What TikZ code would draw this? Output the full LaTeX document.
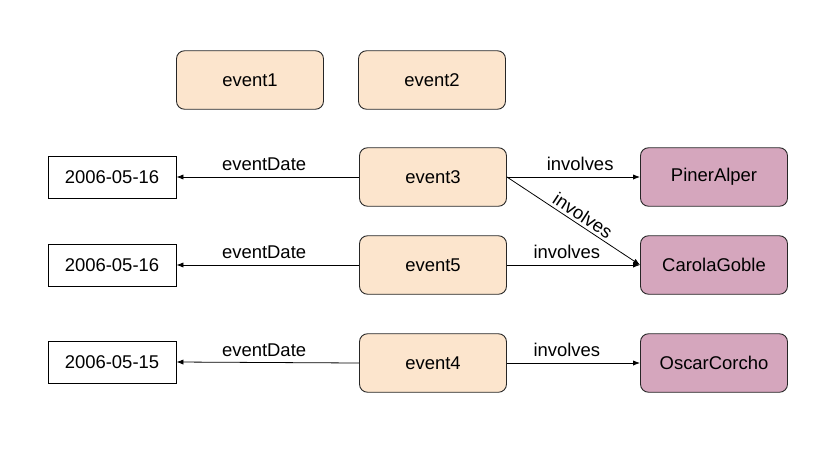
\documentclass[tikz,border=0pt]{standalone}
\usepackage{fontspec}
\setmainfont{Liberation Sans}
\usetikzlibrary{arrows.meta}

\definecolor{eventfill}{HTML}{FCE5CD}
\definecolor{personfill}{HTML}{D5A6BD}

\begin{document}
\begin{tikzpicture}[x=0.02cm, y=-0.02cm, every node/.style={font=\fontsize{10.5}{12}\selectfont},
    eventbox/.style={draw=black!85, fill=eventfill, rounded corners=0.16cm, minimum width=2.94cm, minimum height=1.17cm, line width=0.5pt},
    personbox/.style={draw=black!85, fill=personfill, rounded corners=0.16cm, minimum width=2.94cm, minimum height=1.17cm, line width=0.5pt},
    datebox/.style={draw=black, fill=white, minimum width=2.56cm, minimum height=0.84cm, line width=0.5pt},
    rel/.style={-{Latex[length=4pt,width=3pt]}, line width=0.45pt}]
        \useasboundingbox (0,0) rectangle (837,453);
        % events
        \node[eventbox] (event1) at (250,80) {event1};
        \node[eventbox] (event2) at (432,80) {event2};
        \node[eventbox] (event3) at (433,177) {event3};
        \node[eventbox] (event5) at (433,265) {event5};
        \node[eventbox] (event4) at (433,363) {event4};
        % dates
        \node[datebox] (date3) at (112,177) {2006-05-16};
        \node[datebox] (date5) at (112,265) {2006-05-16};
        \node[datebox] (date4) at (112,362) {2006-05-15};
        % people
        \node[personbox] (piner) at (714,177) {PinerAlper};
        \node[personbox] (carola) at (714,265) {CarolaGoble};
        \node[personbox] (oscar) at (714,363) {OscarCorcho};
        % eventDate
        \draw[rel] (event3.west) -- node[above, pos=0.52] {eventDate} (date3.east);
        \draw[rel] (event5.west) -- node[above, pos=0.52] {eventDate} (date5.east);
        \draw[rel] (event4.west) -- node[above, pos=0.52] {eventDate} (date4.east);
        % involves
        \draw[rel] (event3.east) -- node[above, pos=0.55] {involves} (piner.west);
        \draw[rel] (event3.east) -- node[above, sloped, pos=0.53, inner sep=1.5pt] {involves} (carola.west);
        \draw[rel] (event5.east) -- node[above, pos=0.45] {involves} (carola.west);
        \draw[rel] (event4.east) -- node[above, pos=0.45] {involves} (oscar.west);
      \end{tikzpicture}
\end{document}
